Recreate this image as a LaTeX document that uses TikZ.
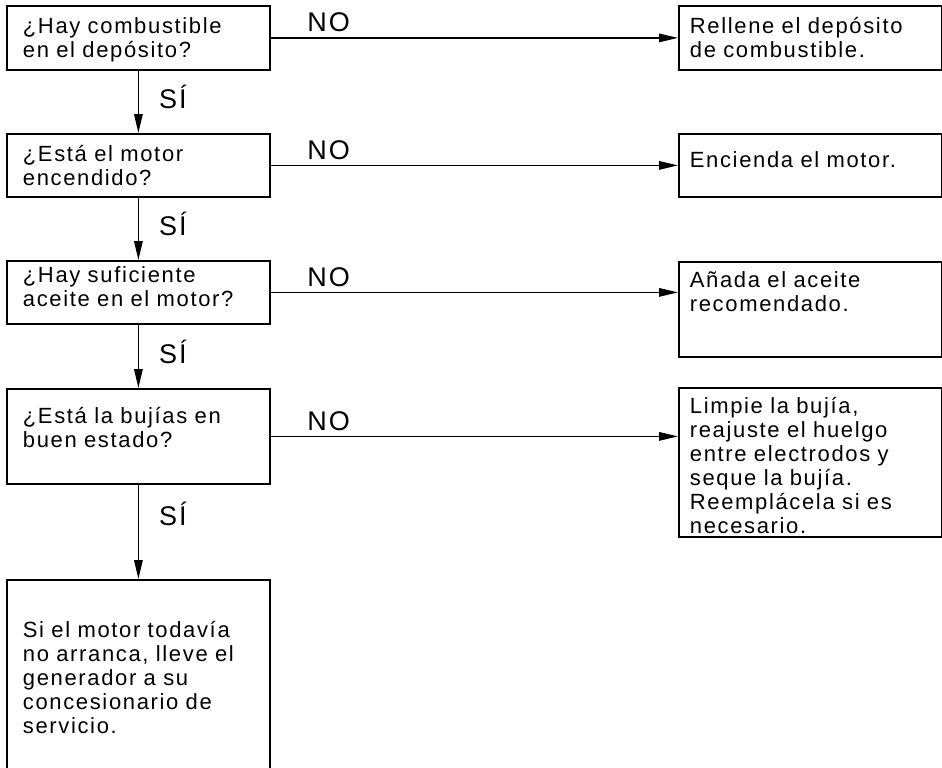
\documentclass[tikz,border=0pt]{standalone}
\usepackage{fontspec}
\setmainfont{Liberation Sans}
\newfontfamily\boxfont[LetterSpace=7.5]{Liberation Sans}
\usetikzlibrary{arrows.meta}

\begin{document}
\begin{tikzpicture}[x=1pt, y=-1pt, >={Triangle[length=19pt,width=8.5pt]},
  box/.style={draw, line width=1.8pt, anchor=north west, align=left, inner ysep=0pt,
    font=\boxfont\fontsize{22}{24}\selectfont},
  lbox/.style={box, inner xsep=16pt, text width=231pt},
  rbox/.style={box, inner xsep=11pt, text width=241pt},
  lab/.style={inner sep=0pt, font=\boxfont\fontsize{27}{27}\selectfont},
  arr/.style={->, line width=1.5pt}]
  \useasboundingbox (0,0) rectangle (942,768);
  \node[lbox, text height=28pt, text depth=36pt] (fuel) at (6,5) {¿Hay combustible\\en el depósito?};
  \node[lbox, text height=27.7pt, text depth=35.3pt] (running) at (6,133) {¿Está el motor\\encendido?};
  \node[lbox, text height=22pt, text depth=41pt] (oil) at (6,260) {¿Hay suficiente\\aceite en el motor?};
  \node[lbox, text height=35pt, text depth=60pt] (plug) at (6,388) {¿Está la bujías en\\buen estado?};
  \node[lbox, text height=58pt, text depth=140pt] (dealer) at (6,579) {Si el motor todavía\\no arranca, lleve el\\generador a su\\concesionario de\\servicio.};
  \node[rbox, text height=28pt, text depth=36pt] (refill) at (678,5) {Rellene el depósito\\de combustible.};
  \node[rbox, text height=33.7pt, text depth=29.3pt] (start) at (678,133) {Encienda el motor.};
  \node[rbox, text height=26pt, text depth=69pt] (addoil) at (678,261) {Añada el aceite\\recomendado.};
  \node[rbox, text height=26pt, text depth=123pt] (clean) at (678,387) {Limpie la bujía,\\reajuste el huelgo\\entre electrodos y\\seque la bujía.\\Reemplácela si es\\necesario.};
  \draw[arr] (fuel.east) -- (fuel.east -| refill.west) node[lab, pos=0.088, anchor=south west, yshift=5pt] {NO};
  \draw[arr] (running.east) -- (running.east -| start.west) node[lab, pos=0.088, anchor=south west, yshift=5pt] {NO};
  \draw[arr] (oil.east) -- (oil.east -| addoil.west) node[lab, pos=0.088, anchor=south west, yshift=5pt] {NO};
  \draw[arr] (plug.east) -- (plug.east -| clean.west) node[lab, pos=0.088, anchor=south west, yshift=5pt] {NO};
  \draw[arr] (fuel.south) -- (running.north) node[lab, pos=0.61, anchor=base west, xshift=20pt] {SÍ};
  \draw[arr] (running.south) -- (oil.north) node[lab, pos=0.61, anchor=base west, xshift=20pt] {SÍ};
  \draw[arr] (oil.south) -- (plug.north) node[lab, pos=0.61, anchor=base west, xshift=20pt] {SÍ};
  \draw[arr] (plug.south) -- (dealer.north) node[lab, pos=0.43, anchor=base west, xshift=20pt] {SÍ};
\end{tikzpicture}
\end{document}
